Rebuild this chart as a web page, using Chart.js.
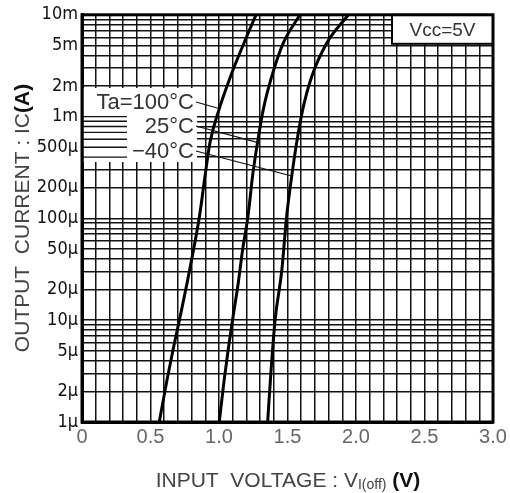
<!DOCTYPE html>
<html><head><meta charset="utf-8">
<script src="https://cdn.jsdelivr.net/npm/chart.js@4/dist/chart.umd.min.js"></script>
<style>html,body{margin:0;padding:0;background:#fff;overflow:hidden}#wrap{width:510px;height:493px;position:relative}</style>
</head><body><div id="wrap"><canvas id="c"></canvas></div>
<script>
// ---- data ----
const seriesNames = ['Ta=100°C', '25°C', '\u221240°C'];
const voltage100 = [0.564, 0.618, 0.666, 0.718, 0.768, 0.815, 0.858, 0.898, 0.934, 1.000, 1.084, 1.182, 1.270];
const current100 = [1e-6, 2.48e-6, 5.25e-6, 11.1e-6, 23.5e-6, 49.9e-6, 106e-6, 261e-6, 555e-6, 1.17e-3, 2.48e-3, 5.26e-3, 10e-3];
const voltage25 = [1.002, 1.036, 1.068, 1.104, 1.141, 1.173, 1.212, 1.245, 1.281, 1.323, 1.385, 1.469, 1.591];
const current25 = [1e-6, 2.48e-6, 5.25e-6, 11.1e-6, 23.5e-6, 49.9e-6, 106e-6, 261e-6, 555e-6, 1.17e-3, 2.48e-3, 5.26e-3, 10e-3];
const voltageM40 = [1.355, 1.380, 1.409, 1.458, 1.494, 1.531, 1.567, 1.611, 1.677, 1.786, 1.944];
const currentM40 = [1e-6, 3.22e-6, 9.93e-6, 30.6e-6, 106e-6, 261e-6, 555e-6, 1.17e-3, 2.48e-3, 5.26e-3, 10e-3];
// leader-line end points on each curve (V, A)
const leaderEnds = [[1.00, 1.2e-3], [1.285, 5.55e-4], [1.531, 2.61e-4]];

const xTickValues = [0, 0.5, 1.0, 1.5, 2.0, 2.5, 3.0];
const xTickLabels = ['0', '0.5', '1.0', '1.5', '2.0', '2.5', '3.0'];
const yTickValues = [1e-6, 2e-6, 5e-6, 1e-5, 2e-5, 5e-5, 1e-4, 2e-4, 5e-4, 1e-3, 2e-3, 5e-3, 1e-2];
const yTickLabels = ['1\u00b5', '2\u00b5', '5\u00b5', '10\u00b5', '20\u00b5', '50\u00b5', '100\u00b5', '200\u00b5', '500\u00b5', '1m', '2m', '5m', '10m'];
const vccLabel = 'Vcc=5V';

const zip = (xs, ys) => xs.map((x, i) => ({x, y: ys[i]}));
const near = (a, b) => Math.abs(a - b) <= Math.abs(b) * 1e-6 + 1e-9;

const FONT = '"Liberation Sans", Arial, sans-serif';

const decor = {
  id: 'decor',
  beforeDatasetsDraw(chart) {
    const {ctx, chartArea: ca, scales: {x, y}} = chart;
    ctx.save();
    // white patch behind the temperature labels
    ctx.fillStyle = '#fff';
    ctx.fillRect(ca.left + 1.5, 88, 197 - ca.left - 1.5, 162 - 88);
    // partial grid lines visible at the left of that patch
    ctx.strokeStyle = '#111';
    ctx.lineWidth = 1.4;
    [1e-3, 9e-4, 8e-4, 7e-4, 6e-4, 5e-4, 4e-4].forEach(v => {
      const py = y.getPixelForValue(v);
      ctx.beginPath(); ctx.moveTo(ca.left, py); ctx.lineTo(127, py); ctx.stroke();
    });
    // Vcc box
    const bx = ca.right - 101, by = ca.top, bw = 101, bh = 29;
    ctx.fillStyle = '#fff';
    ctx.fillRect(bx, by, bw, bh);
    ctx.lineWidth = 2;
    ctx.strokeStyle = '#000';
    ctx.strokeRect(bx, by, bw, bh);
    ctx.fillStyle = '#333';
    ctx.font = '19px ' + FONT;
    ctx.textAlign = 'center';
    ctx.textBaseline = 'middle';
    ctx.fillText(vccLabel, bx + bw / 2, by + bh / 2 + 1);
    // frame
    ctx.lineWidth = 3;
    ctx.strokeRect(ca.left, ca.top, ca.right - ca.left, ca.bottom - ca.top);
    ctx.restore();
  },
  afterDatasetsDraw(chart) {
    const {ctx, chartArea: ca, scales: {x, y}} = chart;
    ctx.save();
    // temperature labels + leader lines
    const labelY = [102, 126, 151];
    ctx.font = '22px ' + FONT;
    ctx.fillStyle = '#333';
    ctx.textAlign = 'right';
    ctx.textBaseline = 'middle';
    ctx.strokeStyle = '#111';
    ctx.lineWidth = 1.2;
    seriesNames.forEach((n, i) => {
      ctx.fillText(n, 194, labelY[i] + 1);
      ctx.beginPath();
      ctx.moveTo(196, labelY[i]);
      ctx.lineTo(x.getPixelForValue(leaderEnds[i][0]), y.getPixelForValue(leaderEnds[i][1]));
      ctx.stroke();
    });
    // y axis title (rotated)
    ctx.save();
    ctx.translate(23, 218);
    ctx.rotate(-Math.PI / 2);
    const p1 = 'OUTPUT  CURRENT : IC', p2 = '(A)';
    ctx.font = '21px ' + FONT;
    const w1 = ctx.measureText(p1).width;
    ctx.font = 'bold 21px ' + FONT;
    const w2 = ctx.measureText(p2).width;
    let sx = -(w1 + w2) / 2;
    ctx.textAlign = 'left';
    ctx.textBaseline = 'middle';
    ctx.font = '21px ' + FONT; ctx.fillStyle = '#444';
    ctx.fillText(p1, sx, 0);
    ctx.font = 'bold 21px ' + FONT; ctx.fillStyle = '#111';
    ctx.fillText(p2, sx + w1, 0);
    ctx.restore();
    // x axis title with subscript
    const a = 'INPUT  VOLTAGE : V', sub = 'I(off)', b = ' (V)';
    ctx.textAlign = 'left';
    ctx.textBaseline = 'alphabetic';
    ctx.font = '21px ' + FONT; const wa = ctx.measureText(a).width;
    ctx.font = '14px ' + FONT; const ws = ctx.measureText(sub).width;
    ctx.font = 'bold 21px ' + FONT; const wb = ctx.measureText(b).width;
    let tx = 288 - (wa + ws + wb) / 2;
    const base = 487;
    ctx.font = '21px ' + FONT; ctx.fillStyle = '#444'; ctx.fillText(a, tx, base); tx += wa;
    ctx.font = '14px ' + FONT; ctx.fillText(sub, tx, base + 2); tx += ws;
    ctx.font = 'bold 21px ' + FONT; ctx.fillStyle = '#111'; ctx.fillText(b, tx, base);
    ctx.restore();
  }
};

const lineStyle = {borderColor: '#000', borderWidth: 3, pointRadius: 0, fill: false, cubicInterpolationMode: 'monotone'};

new Chart(document.getElementById('c'), {
  type: 'line',
  data: {
    datasets: [
      {label: seriesNames[0], data: zip(voltage100, current100), ...lineStyle},
      {label: seriesNames[1], data: zip(voltage25, current25), ...lineStyle},
      {label: seriesNames[2], data: zip(voltageM40, currentM40), ...lineStyle}
    ]
  },
  options: {
    responsive: true,
    maintainAspectRatio: false,
    animation: false,
    devicePixelRatio: 1,
    layout: {padding: {left: 0, top: 13, right: 17, bottom: 0}},
    plugins: {legend: {display: false}, tooltip: {enabled: false}},
    scales: {
      x: {
        type: 'linear', min: 0, max: 3,
        afterBuildTicks: s => { const t = []; for (let i = 0; i <= 30; i++) t.push({value: i / 10}); s.ticks = t; },
        afterFit: s => { s.height = 71; },
        ticks: {
          autoSkip: false, maxRotation: 0, padding: 3,
          color: '#666', font: {family: FONT, size: 20},
          callback: v => { const i = xTickValues.findIndex(t => Math.abs(v - t) < 1e-6); return i >= 0 ? xTickLabels[i] : ''; }
        },
        grid: {color: '#111', lineWidth: 1.5, drawTicks: false},
        border: {color: '#000', width: 3}
      },
      y: {
        type: 'logarithmic', min: 1e-6, max: 1e-2,
        afterBuildTicks: s => {
          const t = [];
          for (let e = -6; e < -2; e++) for (let m = 1; m <= 9; m++) t.push({value: m * Math.pow(10, e)});
          t.push({value: 1e-2});
          s.ticks = t;
        },
        afterFit: s => { s.width = 82; },
        ticks: {
          autoSkip: false, padding: 4,
          color: '#111', font: {family: '"Liberation Sans Narrow", "DejaVu Sans Condensed", "Liberation Sans", sans-serif', size: 18},
          callback: v => { const i = yTickValues.findIndex(t => near(v, t)); return i >= 0 ? yTickLabels[i] : ''; }
        },
        grid: {color: '#111', lineWidth: 1.5, drawTicks: false},
        border: {color: '#000', width: 3}
      }
    }
  },
  plugins: [decor]
});
</script></body></html>
